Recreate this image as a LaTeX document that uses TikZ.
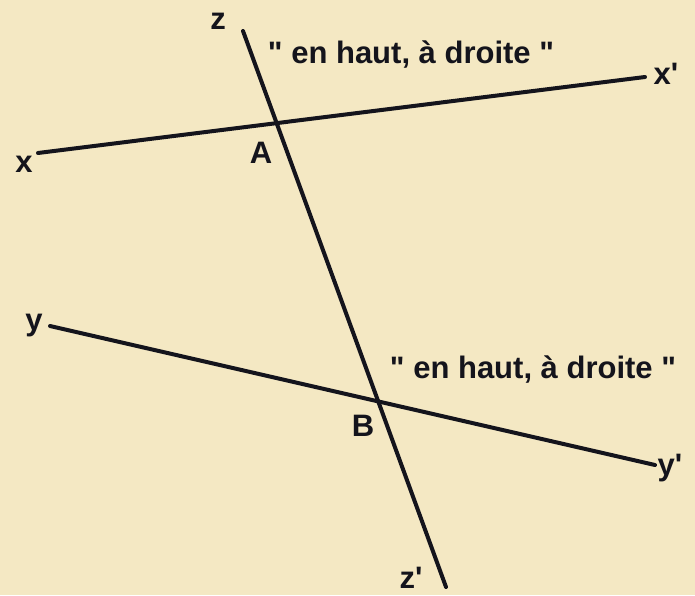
\documentclass[tikz,border=0pt]{standalone}
\usepackage{fontspec}
\setmainfont{Liberation Sans}[Ligatures=TeXOff]
\usepackage{tikz}
\definecolor{paper}{HTML}{F4E8C3}
\definecolor{ink}{HTML}{14141C}
\tikzset{
  droite/.style={draw=ink,line width=2pt,line cap=round},
  lettre/.style={font=\fontsize{15.5}{18}\selectfont\bfseries,text=ink,
    inner sep=0pt},
  remarque/.style={lettre}}

\begin{document}
\begin{tikzpicture}[x=0.5pt,y=-0.5pt]
  \fill[paper] (0,0) rectangle (695,595);
  \useasboundingbox (0,0) rectangle (695,595);

  \coordinate (xe) at (38,153);
  \coordinate (xpe) at (645,77);
  \coordinate (ye) at (50,326);
  \coordinate (ype) at (655,465);
  \coordinate (ze) at (243,31);
  \coordinate (zpe) at (446,587);
  \coordinate (A) at (intersection of xe--xpe and ze--zpe);
  \coordinate (B) at (intersection of ye--ype and ze--zpe);

  \draw[droite] (xe) -- (xpe);
  \draw[droite] (ye) -- (ype);
  \draw[droite] (ze) -- (zpe);

  \node[lettre] (lx) at (24,164) {x};
  \node[lettre] (lxp) at (666,74) {x'};
  \node[lettre] (ly) at (34,326) {y};
  \node[lettre] (lyp) at (670,468) {y'};
  \node[lettre] (lz) at (218,21) {z};
  \node[lettre] (lzp) at (411,578) {z'};
  \node[lettre] (lA) at (261,153) {A};
  \node[lettre] (lB) at (363,426) {B};

  \node[remarque] (rA) at (411,55) {" en haut, à droite "};
  \node[remarque] (rB) at (533,370) {" en haut, à droite "};
\end{tikzpicture}
\end{document}
